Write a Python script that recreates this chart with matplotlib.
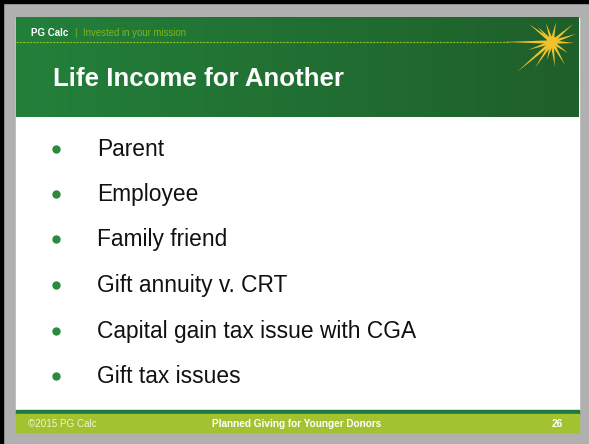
import numpy as np
import matplotlib.pyplot as plt
from matplotlib.patches import Rectangle, Polygon, Circle
from matplotlib.colors import LinearSegmentedColormap

plt.rcParams['font.family'] = ['Liberation Sans', 'DejaVu Sans']

title = 'Life Income for Another'
bullets = ['Parent', 'Employee', 'Family friend', 'Gift annuity v. CRT',
           'Capital gain tax issue with CGA', 'Gift tax issues']
bullet_y = [149, 193.5, 239, 285, 331, 376]
footer_left = '\u00a92015 PG Calc'
footer_mid = 'Planned Giving for Younger Donors'
page_no = '26'

W, H = 589, 444
fig = plt.figure(figsize=(W / 100, H / 100), dpi=100)
ax = fig.add_axes([0, 0, 1, 1])
ax.set_xlim(0, W)
ax.set_ylim(H, 0)
ax.axis('off')

# gray frame with black edge top/left
ax.add_patch(Rectangle((0, 0), W, H, color='#b0b0b0', zorder=0))
ax.add_patch(Rectangle((0, 0), 3, H, color='#000000', zorder=1))
ax.add_patch(Rectangle((0, 0), W, 3, color='#000000', zorder=1))

# slide body
x0, x1 = 16, 579
ax.add_patch(Rectangle((x0, 18), x1 - x0, 392, color='white', zorder=1))

# header gradient
cmap = LinearSegmentedColormap.from_list('hdr', ['#23803b', '#1f5f2a'])
grad = np.linspace(0, 1, 256).reshape(1, -1)
ax.imshow(grad, cmap=cmap, extent=[x0, x1, 117, 18], aspect='auto', zorder=2)

# dashed line
ax.plot([x0, 510], [42, 42], color='#8dc21f', lw=0.8, ls=(0, (2, 1)), zorder=3)

ax.text(31, 33, 'PG Calc', color='white', fontsize=7, fontweight='bold',
        va='center', ha='left', zorder=4)
ax.text(74, 33, '|', color='#7cb51f', fontsize=7, va='center', ha='left', zorder=4)
ax.text(83, 33, 'Invested in your mission', color='#7cb51f', fontsize=6.9,
        va='center', ha='left', zorder=4)

ax.text(53, 78.5, title, color='white', fontsize=18.6, fontweight='bold',
        va='center', ha='left', zorder=4)

# starburst
cx, cy = 552, 42
tips = [(529, 24), (538, 27), (546, 23), (556, 22), (573, 24), (576, 34),
        (574, 43), (568, 53), (565, 65), (555, 67), (547, 60), (535, 68),
        (517, 72), (528, 50)]
star = '#f3c22a'
for tx, ty in tips:
    dx, dy = tx - cx, ty - cy
    n = np.hypot(dx, dy)
    px, py = -dy / n * 1.8, dx / n * 1.8
    ax.add_patch(Polygon([(cx + px, cy + py), (tx, ty), (cx - px, cy - py)],
                         closed=True, color=star, lw=0, zorder=5))
ax.add_patch(Polygon([(503, 42), (cx, 40.3), (cx, 43.7)], closed=True,
                     color=star, lw=0, zorder=5))
ax.add_patch(Circle((cx, cy), 5.5, color=star, lw=0, zorder=5))

# bullets
for y, t in zip(bullet_y, bullets):
    ax.plot(55.5, y, 'o', color='#2a8a3e', ms=5, zorder=4)
    ax.text(97, y + 0.5, t, color='#111111', fontsize=16.4, va='center', ha='left', zorder=4)

# footer
ax.add_patch(Rectangle((x0, 410), x1 - x0, 4, color='#1e7a3a', zorder=2))
ax.add_patch(Rectangle((x0, 414), x1 - x0, 18, color='#a3c22f', zorder=2))
ax.text(28, 424, footer_left, color='#eef5d0', fontsize=7.1, va='center', ha='left', zorder=4)
ax.text(297, 424, footer_mid, color='white', fontsize=7.2, fontweight='bold',
        va='center', ha='center', zorder=4)
ax.text(557, 424, page_no, color='white', fontsize=7.2, fontweight='bold',
        va='center', ha='center', zorder=4)

fig.savefig('out.png', dpi=100)
